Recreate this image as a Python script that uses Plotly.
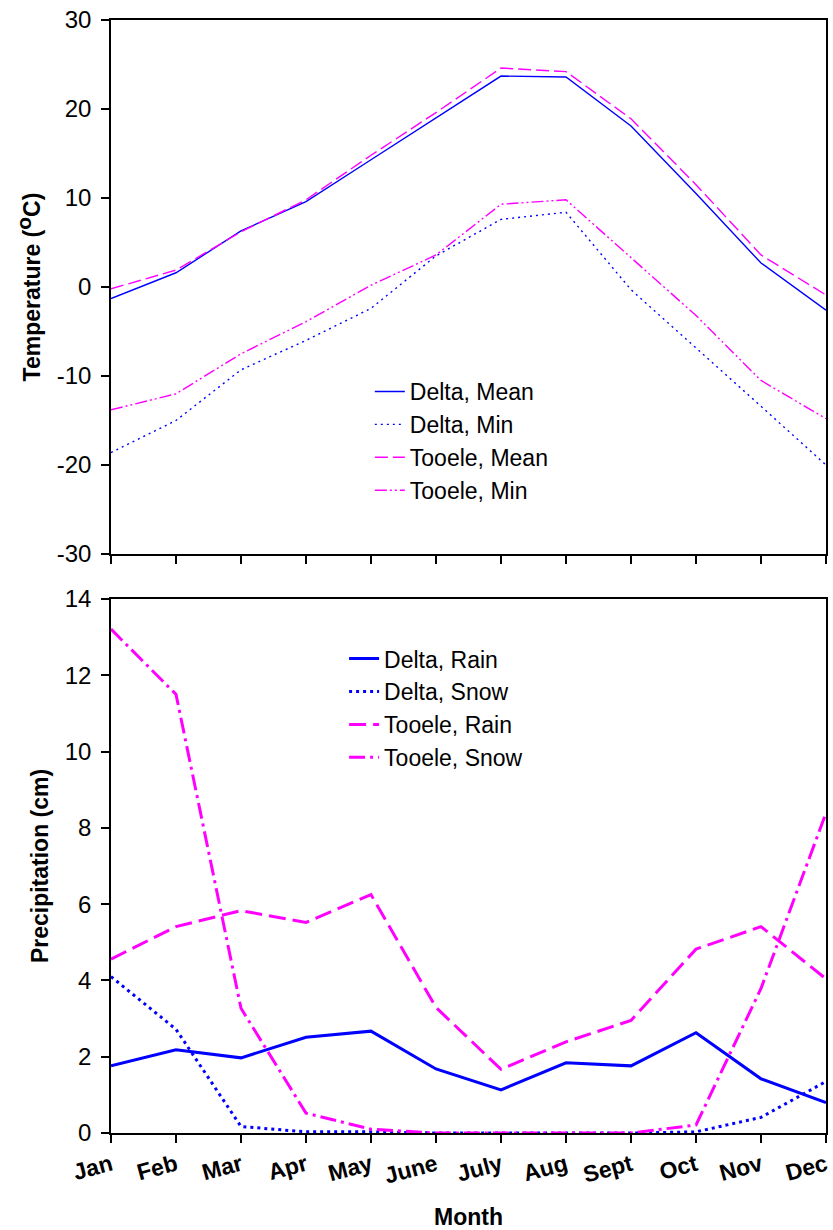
import plotly.graph_objects as go

months = ["Jan", "Feb", "Mar", "Apr", "May", "June", "July", "Aug", "Sept", "Oct", "Nov", "Dec"]
xpos = list(range(12))

temp_ticks = [-30, -20, -10, 0, 10, 20, 30]
temp_ticktext = ["-30", "-20", "-10", "0", "10", "20", "30"]
precip_ticks = [0, 2, 4, 6, 8, 10, 12, 14]

delta_mean = [-1.3, 1.6, 6.3, 9.6, 14.3, 19.0, 23.7, 23.6, 18.1, 10.5, 2.7, -2.6]
delta_min = [-18.6, -15.0, -9.3, -6.0, -2.4, 3.5, 7.6, 8.4, -0.3, -6.8, -13.4, -20.0]
tooele_mean = [-0.2, 1.9, 6.2, 9.8, 14.8, 19.6, 24.6, 24.2, 18.9, 11.5, 3.6, -0.9]
tooele_min = [-13.8, -12.0, -7.5, -3.9, 0.2, 3.6, 9.3, 9.8, 3.3, -3.2, -10.5, -14.8]

delta_rain = [1.76, 2.18, 1.97, 2.51, 2.67, 1.68, 1.13, 1.84, 1.76, 2.63, 1.42, 0.80]
delta_snow = [4.10, 2.72, 0.17, 0.03, 0.03, 0.0, 0.0, 0.0, 0.0, 0.03, 0.41, 1.35]
tooele_rain = [4.56, 5.41, 5.83, 5.52, 6.25, 3.29, 1.67, 2.39, 2.95, 4.82, 5.41, 4.04]
tooele_snow = [13.21, 11.5, 3.27, 0.52, 0.10, 0.0, 0.0, 0.0, 0.0, 0.21, 3.79, 8.39]

BLUE = "#0000FF"
MAG = "#FF00FF"
FONT = "Liberation Sans, Arial, sans-serif"

fig = go.Figure()

top = [
    ("Delta, Mean", delta_mean, BLUE, "solid"),
    ("Delta, Min", delta_min, BLUE, "2px,4px"),
    ("Tooele, Mean", tooele_mean, MAG, "13px,5px"),
    ("Tooele, Min", tooele_min, MAG, "12px,3px,2px,3px,2px,3px"),
]
for name, vals, col, dash in top:
    fig.add_trace(go.Scatter(x=xpos, y=vals, mode="lines", name=name,
                             line=dict(color=col, width=1.4, dash=dash),
                             xaxis="x", yaxis="y", legend="legend"))

bot = [
    ("Delta, Rain", delta_rain, BLUE, "solid"),
    ("Delta, Snow", delta_snow, BLUE, "3px,4px"),
    ("Tooele, Rain", tooele_rain, MAG, "17px,7px"),
    ("Tooele, Snow", tooele_snow, MAG, "16px,5px,3px,5px"),
]
for name, vals, col, dash in bot:
    fig.add_trace(go.Scatter(x=xpos, y=vals, mode="lines", name=name,
                             line=dict(color=col, width=3, dash=dash),
                             xaxis="x2", yaxis="y2", legend="legend2"))

axis_common = dict(showline=True, linecolor="black", linewidth=1.5, mirror=True,
                   ticks="outside", ticklen=8, tickwidth=1.5, tickcolor="black",
                   showgrid=False, zeroline=False, automargin=False)

temp_title = ("<b>Temperature (<span style='font-size:21px;baseline-shift:45%'>o</span>C)</b>")

fig.update_layout(
    width=833, height=1230,
    margin=dict(l=111, r=7, t=20, b=97),
    plot_bgcolor="white", paper_bgcolor="white",
    font=dict(family=FONT, size=24, color="black"),
    xaxis=dict(domain=[0, 1], range=[0, 11], tickvals=xpos, showticklabels=False,
               anchor="y", **axis_common),
    yaxis=dict(domain=[0.5202, 1], range=[-30, 30], tickvals=temp_ticks, ticktext=temp_ticktext,
               anchor="x", ticklabelstandoff=5,
               title=dict(text=temp_title, font=dict(size=23), standoff=10),
               tickfont=dict(size=24), **axis_common),
    xaxis2=dict(domain=[0, 1], range=[0, 11], tickvals=xpos, ticktext=[f"<b>{m}</b>" for m in months],
                tickangle=-15, anchor="y2",
                title=dict(text="<b>Month</b>", font=dict(size=23), standoff=22),
                tickfont=dict(size=23), **axis_common),
    yaxis2=dict(domain=[0, 0.4798], range=[0, 14], tickvals=precip_ticks, anchor="x2",
                ticklabelstandoff=5,
                title=dict(text="<b>Precipitation (cm)</b>", font=dict(size=23), standoff=10),
                tickfont=dict(size=24), **axis_common),
    legend=dict(x=0.362, y=0.6855, xanchor="left", yanchor="top", bgcolor="rgba(0,0,0,0)",
                font=dict(size=23), tracegroupgap=0),
    legend2=dict(x=0.326, y=0.4455, xanchor="left", yanchor="top", bgcolor="rgba(0,0,0,0)",
                 font=dict(size=23), tracegroupgap=0),
    showlegend=True,
)

fig.write_html("out.html")
